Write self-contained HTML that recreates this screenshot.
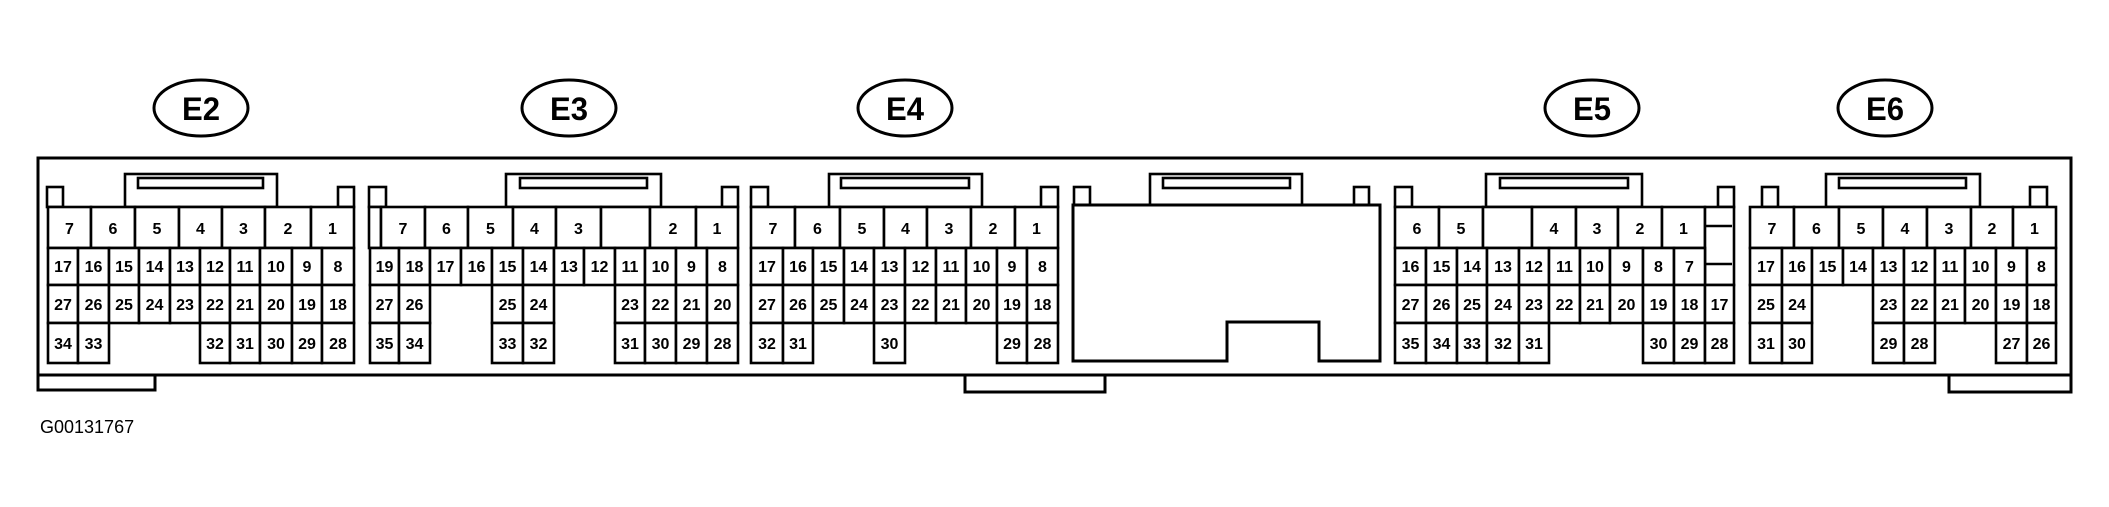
<!DOCTYPE html>
<html><head><meta charset="utf-8"><style>
html,body{margin:0;padding:0;background:#fff;}
svg{display:block;}
.c rect{fill:#fff;stroke:#000;stroke-width:2.6;}
.o{fill:none;stroke:#000;stroke-width:3;}
.n text{font-family:"Liberation Sans",sans-serif;font-weight:bold;font-size:16px;text-anchor:middle;}
.e text{font-family:"Liberation Sans",sans-serif;font-weight:bold;font-size:32px;text-anchor:middle;}
</style></head><body>
<svg width="2109" height="507" viewBox="0 0 2109 507" xmlns="http://www.w3.org/2000/svg">
<g class="e" fill="none" stroke="#000" stroke-width="3">
<ellipse cx="201" cy="108" rx="47" ry="28"/><ellipse cx="569" cy="108" rx="47" ry="28"/><ellipse cx="905" cy="108" rx="47" ry="28"/><ellipse cx="1592" cy="108" rx="47" ry="28"/><ellipse cx="1885" cy="108" rx="47" ry="28"/>
</g>
<g class="e"><text x="201" y="120" textLength="38" lengthAdjust="spacingAndGlyphs">E2</text><text x="569" y="120" textLength="38" lengthAdjust="spacingAndGlyphs">E3</text><text x="905" y="120" textLength="38" lengthAdjust="spacingAndGlyphs">E4</text><text x="1592" y="120" textLength="38" lengthAdjust="spacingAndGlyphs">E5</text><text x="1885" y="120" textLength="38" lengthAdjust="spacingAndGlyphs">E6</text></g>
<rect class="o" x="38" y="158" width="2033" height="217"/>
<rect class="o" x="38" y="375" width="117" height="15"/>
<rect class="o" x="965" y="375" width="140" height="17"/>
<rect class="o" x="1949" y="375" width="122" height="17"/>
<text x="40" y="433" font-family="Liberation Sans,sans-serif" font-size="18">G00131767</text>
<g class="c">
<!-- key blocks and posts -->
<rect x="125" y="174" width="152" height="33"/><rect x="138" y="178" width="125" height="10"/>
<rect x="47" y="187" width="16" height="20"/><rect x="338" y="187" width="16" height="20"/>
<rect x="506" y="174" width="155" height="33"/><rect x="520" y="178" width="127" height="10"/>
<rect x="369" y="187" width="17" height="20"/><rect x="722" y="187" width="16" height="20"/>
<rect x="829" y="174" width="153" height="33"/><rect x="841" y="178" width="128" height="10"/>
<rect x="751" y="187" width="17" height="20"/><rect x="1041" y="187" width="17" height="20"/>
<rect x="1150" y="174" width="152" height="33"/><rect x="1163" y="178" width="127" height="10"/>
<rect x="1074" y="187" width="16" height="20"/><rect x="1354" y="187" width="15" height="20"/>
<rect x="1486" y="174" width="156" height="33"/><rect x="1500" y="178" width="128" height="10"/>
<rect x="1395" y="187" width="17" height="20"/><rect x="1718" y="187" width="16" height="20"/>
<rect x="1826" y="174" width="154" height="33"/><rect x="1839" y="178" width="127" height="10"/>
<rect x="1762" y="187" width="16" height="20"/><rect x="2030" y="187" width="17" height="20"/>
<!-- middle block -->
<path d="M1073 205 H1380 V361 H1319 V322 H1227 V361 H1073 Z" fill="#fff" stroke="#000" stroke-width="3"/>
<!-- E2 -->
<rect x="48" y="207" width="43" height="41"/><rect x="91" y="207" width="44" height="41"/><rect x="135" y="207" width="44" height="41"/><rect x="179" y="207" width="43" height="41"/><rect x="222" y="207" width="43" height="41"/><rect x="265" y="207" width="46" height="41"/><rect x="311" y="207" width="43" height="41"/>
<rect x="48" y="248" width="30" height="37"/><rect x="78" y="248" width="31" height="37"/><rect x="109" y="248" width="30" height="37"/><rect x="139" y="248" width="31" height="37"/><rect x="170" y="248" width="30" height="37"/><rect x="200" y="248" width="30" height="37"/><rect x="230" y="248" width="30" height="37"/><rect x="260" y="248" width="32" height="37"/><rect x="292" y="248" width="30" height="37"/><rect x="322" y="248" width="32" height="37"/>
<rect x="48" y="285" width="30" height="38"/><rect x="78" y="285" width="31" height="38"/><rect x="109" y="285" width="30" height="38"/><rect x="139" y="285" width="31" height="38"/><rect x="170" y="285" width="30" height="38"/><rect x="200" y="285" width="30" height="38"/><rect x="230" y="285" width="30" height="38"/><rect x="260" y="285" width="32" height="38"/><rect x="292" y="285" width="30" height="38"/><rect x="322" y="285" width="32" height="38"/>
<rect x="48" y="323" width="30" height="40"/><rect x="78" y="323" width="31" height="40"/><rect x="200" y="323" width="30" height="40"/><rect x="230" y="323" width="30" height="40"/><rect x="260" y="323" width="32" height="40"/><rect x="292" y="323" width="30" height="40"/><rect x="322" y="323" width="32" height="40"/>
<!-- E3 -->
<rect x="369" y="207" width="12" height="41"/><rect x="381" y="207" width="44" height="41"/><rect x="425" y="207" width="43" height="41"/><rect x="468" y="207" width="45" height="41"/><rect x="513" y="207" width="43" height="41"/><rect x="556" y="207" width="45" height="41"/><rect x="601" y="207" width="49" height="41"/><rect x="650" y="207" width="46" height="41"/><rect x="696" y="207" width="42" height="41"/>
<rect x="370" y="248" width="29" height="37"/><rect x="399" y="248" width="31" height="37"/><rect x="430" y="248" width="31" height="37"/><rect x="461" y="248" width="31" height="37"/><rect x="492" y="248" width="31" height="37"/><rect x="523" y="248" width="31" height="37"/><rect x="554" y="248" width="30" height="37"/><rect x="584" y="248" width="31" height="37"/><rect x="615" y="248" width="30" height="37"/><rect x="645" y="248" width="31" height="37"/><rect x="676" y="248" width="31" height="37"/><rect x="707" y="248" width="31" height="37"/>
<rect x="370" y="285" width="29" height="38"/><rect x="399" y="285" width="31" height="38"/><rect x="492" y="285" width="31" height="38"/><rect x="523" y="285" width="31" height="38"/><rect x="615" y="285" width="30" height="38"/><rect x="645" y="285" width="31" height="38"/><rect x="676" y="285" width="31" height="38"/><rect x="707" y="285" width="31" height="38"/>
<rect x="370" y="323" width="29" height="40"/><rect x="399" y="323" width="31" height="40"/><rect x="492" y="323" width="31" height="40"/><rect x="523" y="323" width="31" height="40"/><rect x="615" y="323" width="30" height="40"/><rect x="645" y="323" width="31" height="40"/><rect x="676" y="323" width="31" height="40"/><rect x="707" y="323" width="31" height="40"/>
<!-- E4 -->
<rect x="751" y="207" width="44" height="41"/><rect x="795" y="207" width="45" height="41"/><rect x="840" y="207" width="44" height="41"/><rect x="884" y="207" width="43" height="41"/><rect x="927" y="207" width="44" height="41"/><rect x="971" y="207" width="44" height="41"/><rect x="1015" y="207" width="43" height="41"/>
<rect x="751" y="248" width="32" height="37"/><rect x="783" y="248" width="30" height="37"/><rect x="813" y="248" width="31" height="37"/><rect x="844" y="248" width="30" height="37"/><rect x="874" y="248" width="31" height="37"/><rect x="905" y="248" width="31" height="37"/><rect x="936" y="248" width="30" height="37"/><rect x="966" y="248" width="31" height="37"/><rect x="997" y="248" width="30" height="37"/><rect x="1027" y="248" width="31" height="37"/>
<rect x="751" y="285" width="32" height="38"/><rect x="783" y="285" width="30" height="38"/><rect x="813" y="285" width="31" height="38"/><rect x="844" y="285" width="30" height="38"/><rect x="874" y="285" width="31" height="38"/><rect x="905" y="285" width="31" height="38"/><rect x="936" y="285" width="30" height="38"/><rect x="966" y="285" width="31" height="38"/><rect x="997" y="285" width="30" height="38"/><rect x="1027" y="285" width="31" height="38"/>
<rect x="751" y="323" width="32" height="40"/><rect x="783" y="323" width="30" height="40"/><rect x="874" y="323" width="31" height="40"/><rect x="997" y="323" width="30" height="40"/><rect x="1027" y="323" width="31" height="40"/>
<!-- E5 -->
<rect x="1395" y="207" width="44" height="41"/><rect x="1439" y="207" width="44" height="41"/><rect x="1483" y="207" width="49" height="41"/><rect x="1532" y="207" width="44" height="41"/><rect x="1576" y="207" width="42" height="41"/><rect x="1618" y="207" width="44" height="41"/><rect x="1662" y="207" width="43" height="41"/>
<rect x="1705" y="207" width="29" height="78"/>
<rect x="1395" y="248" width="31" height="37"/><rect x="1426" y="248" width="31" height="37"/><rect x="1457" y="248" width="30" height="37"/><rect x="1487" y="248" width="32" height="37"/><rect x="1519" y="248" width="30" height="37"/><rect x="1549" y="248" width="31" height="37"/><rect x="1580" y="248" width="30" height="37"/><rect x="1610" y="248" width="33" height="37"/><rect x="1643" y="248" width="31" height="37"/><rect x="1674" y="248" width="31" height="37"/>
<rect x="1395" y="285" width="31" height="38"/><rect x="1426" y="285" width="31" height="38"/><rect x="1457" y="285" width="30" height="38"/><rect x="1487" y="285" width="32" height="38"/><rect x="1519" y="285" width="30" height="38"/><rect x="1549" y="285" width="31" height="38"/><rect x="1580" y="285" width="30" height="38"/><rect x="1610" y="285" width="33" height="38"/><rect x="1643" y="285" width="31" height="38"/><rect x="1674" y="285" width="31" height="38"/><rect x="1705" y="285" width="29" height="38"/>
<rect x="1395" y="323" width="31" height="40"/><rect x="1426" y="323" width="31" height="40"/><rect x="1457" y="323" width="30" height="40"/><rect x="1487" y="323" width="32" height="40"/><rect x="1519" y="323" width="30" height="40"/><rect x="1643" y="323" width="31" height="40"/><rect x="1674" y="323" width="31" height="40"/><rect x="1705" y="323" width="29" height="40"/>
<!-- E6 -->
<rect x="1750" y="207" width="44" height="41"/><rect x="1794" y="207" width="45" height="41"/><rect x="1839" y="207" width="44" height="41"/><rect x="1883" y="207" width="44" height="41"/><rect x="1927" y="207" width="44" height="41"/><rect x="1971" y="207" width="42" height="41"/><rect x="2013" y="207" width="43" height="41"/>
<rect x="1750" y="248" width="32" height="37"/><rect x="1782" y="248" width="30" height="37"/><rect x="1812" y="248" width="31" height="37"/><rect x="1843" y="248" width="30" height="37"/><rect x="1873" y="248" width="31" height="37"/><rect x="1904" y="248" width="31" height="37"/><rect x="1935" y="248" width="30" height="37"/><rect x="1965" y="248" width="31" height="37"/><rect x="1996" y="248" width="31" height="37"/><rect x="2027" y="248" width="29" height="37"/>
<rect x="1750" y="285" width="32" height="38"/><rect x="1782" y="285" width="30" height="38"/><rect x="1873" y="285" width="31" height="38"/><rect x="1904" y="285" width="31" height="38"/><rect x="1935" y="285" width="30" height="38"/><rect x="1965" y="285" width="31" height="38"/><rect x="1996" y="285" width="31" height="38"/><rect x="2027" y="285" width="29" height="38"/>
<rect x="1750" y="323" width="32" height="40"/><rect x="1782" y="323" width="30" height="40"/><rect x="1873" y="323" width="31" height="40"/><rect x="1904" y="323" width="31" height="40"/><rect x="1996" y="323" width="31" height="40"/><rect x="2027" y="323" width="29" height="40"/>
</g>
<path d="M1705 226 H1732 M1705 264 H1732" stroke="#000" stroke-width="2.6"/>
<g class="n">
<!-- E2 -->
<text x="69.5" y="234">7</text><text x="113" y="234">6</text><text x="157" y="234">5</text><text x="200.5" y="234">4</text><text x="243.5" y="234">3</text><text x="288" y="234">2</text><text x="332.5" y="234">1</text>
<text x="63" y="272">17</text><text x="93.5" y="272">16</text><text x="124" y="272">15</text><text x="154.5" y="272">14</text><text x="185" y="272">13</text><text x="215" y="272">12</text><text x="245" y="272">11</text><text x="276" y="272">10</text><text x="307" y="272">9</text><text x="338" y="272">8</text>
<text x="63" y="310">27</text><text x="93.5" y="310">26</text><text x="124" y="310">25</text><text x="154.5" y="310">24</text><text x="185" y="310">23</text><text x="215" y="310">22</text><text x="245" y="310">21</text><text x="276" y="310">20</text><text x="307" y="310">19</text><text x="338" y="310">18</text>
<text x="63" y="349">34</text><text x="93.5" y="349">33</text><text x="215" y="349">32</text><text x="245" y="349">31</text><text x="276" y="349">30</text><text x="307" y="349">29</text><text x="338" y="349">28</text>
<!-- E3 -->
<text x="403" y="234">7</text><text x="446.5" y="234">6</text><text x="490.5" y="234">5</text><text x="534.5" y="234">4</text><text x="578.5" y="234">3</text><text x="673" y="234">2</text><text x="717" y="234">1</text>
<text x="384.5" y="272">19</text><text x="414.5" y="272">18</text><text x="445.5" y="272">17</text><text x="476.5" y="272">16</text><text x="507.5" y="272">15</text><text x="538.5" y="272">14</text><text x="569" y="272">13</text><text x="599.5" y="272">12</text><text x="630" y="272">11</text><text x="660.5" y="272">10</text><text x="691.5" y="272">9</text><text x="722.5" y="272">8</text>
<text x="384.5" y="310">27</text><text x="414.5" y="310">26</text><text x="507.5" y="310">25</text><text x="538.5" y="310">24</text><text x="630" y="310">23</text><text x="660.5" y="310">22</text><text x="691.5" y="310">21</text><text x="722.5" y="310">20</text>
<text x="384.5" y="349">35</text><text x="414.5" y="349">34</text><text x="507.5" y="349">33</text><text x="538.5" y="349">32</text><text x="630" y="349">31</text><text x="660.5" y="349">30</text><text x="691.5" y="349">29</text><text x="722.5" y="349">28</text>
<!-- E4 -->
<text x="773" y="234">7</text><text x="817.5" y="234">6</text><text x="862" y="234">5</text><text x="905.5" y="234">4</text><text x="949" y="234">3</text><text x="993" y="234">2</text><text x="1036.5" y="234">1</text>
<text x="767" y="272">17</text><text x="798" y="272">16</text><text x="828.5" y="272">15</text><text x="859" y="272">14</text><text x="889.5" y="272">13</text><text x="920.5" y="272">12</text><text x="951" y="272">11</text><text x="981.5" y="272">10</text><text x="1012" y="272">9</text><text x="1042.5" y="272">8</text>
<text x="767" y="310">27</text><text x="798" y="310">26</text><text x="828.5" y="310">25</text><text x="859" y="310">24</text><text x="889.5" y="310">23</text><text x="920.5" y="310">22</text><text x="951" y="310">21</text><text x="981.5" y="310">20</text><text x="1012" y="310">19</text><text x="1042.5" y="310">18</text>
<text x="767" y="349">32</text><text x="798" y="349">31</text><text x="889.5" y="349">30</text><text x="1012" y="349">29</text><text x="1042.5" y="349">28</text>
<!-- E5 -->
<text x="1417" y="234">6</text><text x="1461" y="234">5</text><text x="1554" y="234">4</text><text x="1597" y="234">3</text><text x="1640" y="234">2</text><text x="1683.5" y="234">1</text>
<text x="1410.5" y="272">16</text><text x="1441.5" y="272">15</text><text x="1472" y="272">14</text><text x="1503" y="272">13</text><text x="1534" y="272">12</text><text x="1564.5" y="272">11</text><text x="1595" y="272">10</text><text x="1626.5" y="272">9</text><text x="1658.5" y="272">8</text><text x="1689.5" y="272">7</text>
<text x="1410.5" y="310">27</text><text x="1441.5" y="310">26</text><text x="1472" y="310">25</text><text x="1503" y="310">24</text><text x="1534" y="310">23</text><text x="1564.5" y="310">22</text><text x="1595" y="310">21</text><text x="1626.5" y="310">20</text><text x="1658.5" y="310">19</text><text x="1689.5" y="310">18</text><text x="1719.5" y="310">17</text>
<text x="1410.5" y="349">35</text><text x="1441.5" y="349">34</text><text x="1472" y="349">33</text><text x="1503" y="349">32</text><text x="1534" y="349">31</text><text x="1658.5" y="349">30</text><text x="1689.5" y="349">29</text><text x="1719.5" y="349">28</text>
<!-- E6 -->
<text x="1772" y="234">7</text><text x="1816.5" y="234">6</text><text x="1861" y="234">5</text><text x="1905" y="234">4</text><text x="1949" y="234">3</text><text x="1992" y="234">2</text><text x="2034.5" y="234">1</text>
<text x="1766" y="272">17</text><text x="1797" y="272">16</text><text x="1827.5" y="272">15</text><text x="1858" y="272">14</text><text x="1888.5" y="272">13</text><text x="1919.5" y="272">12</text><text x="1950" y="272">11</text><text x="1980.5" y="272">10</text><text x="2011.5" y="272">9</text><text x="2041.5" y="272">8</text>
<text x="1766" y="310">25</text><text x="1797" y="310">24</text><text x="1888.5" y="310">23</text><text x="1919.5" y="310">22</text><text x="1950" y="310">21</text><text x="1980.5" y="310">20</text><text x="2011.5" y="310">19</text><text x="2041.5" y="310">18</text>
<text x="1766" y="349">31</text><text x="1797" y="349">30</text><text x="1888.5" y="349">29</text><text x="1919.5" y="349">28</text><text x="2011.5" y="349">27</text><text x="2041.5" y="349">26</text>
</g>
</svg>
</body></html>
